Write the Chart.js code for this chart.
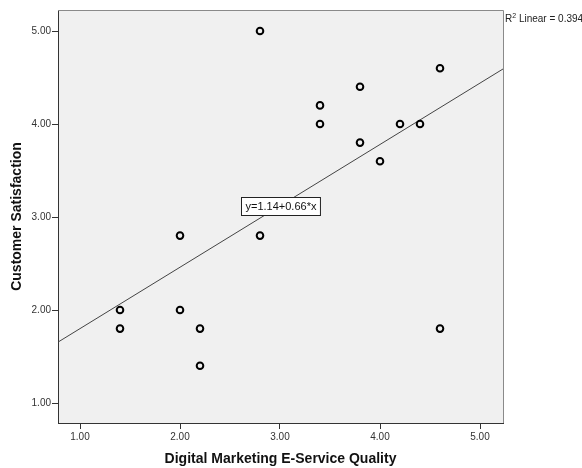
<!DOCTYPE html>
<html>
<head>
<meta charset="utf-8">
<script src="https://cdn.jsdelivr.net/npm/chart.js@4/dist/chart.umd.min.js"></script>
<style>
  html, body { margin: 0; padding: 0; background: #fff; }
  #wrap { width: 582px; height: 468px; }
</style>
</head>
<body>
<div id="wrap"><canvas id="c" width="582" height="468"></canvas></div>
<script>
// Observations: e-service quality (x) against customer satisfaction (y)
const serviceQuality = [2.8, 4.6, 3.8, 3.4, 3.4, 4.2, 4.4, 3.8, 4.0, 2.0, 2.8, 1.4, 1.4, 2.0, 2.2, 2.2, 4.6];
const satisfaction   = [5.0, 4.6, 4.4, 4.2, 4.0, 4.0, 4.0, 3.8, 3.6, 2.8, 2.8, 2.0, 1.8, 2.0, 1.8, 1.4, 1.8];

// Fitted linear model: y = intercept + slope * x
const intercept = 1.14;
const slope = 0.66;
const rSquared = 0.394;

// Axis ranges and tick values
const xRange = [0.78, 5.23];
const yRange = [0.785, 5.226];
const xTicks = [1, 2, 3, 4, 5];
const yTicks = [1, 2, 3, 4, 5];

const xTitle = 'Digital Marketing E-Service Quality';
const yTitle = 'Customer Satisfaction';

const points = serviceQuality.map((x, i) => ({ x: x, y: satisfaction[i] }));
const fitLine = xRange.map(x => ({ x: x, y: intercept + slope * x }));

const FONT = '"Liberation Sans", Arial, sans-serif';

// Plot frame: grey fill, lighter top/right edges
const framePlugin = {
  id: 'frame',
  beforeDatasetsDraw(chart) {
    const { ctx, chartArea: a } = chart;
    ctx.save();
    ctx.strokeStyle = '#8a8a8a';
    ctx.lineWidth = 1;
    ctx.beginPath();
    ctx.moveTo(a.left, a.top + 0.5);
    ctx.lineTo(a.right + 0.5, a.top + 0.5);
    ctx.lineTo(a.right + 0.5, a.bottom);
    ctx.stroke();
    ctx.restore();
  },
  beforeDraw(chart) {
    const { ctx, chartArea: a } = chart;
    ctx.save();
    ctx.fillStyle = '#f0f0f0';
    ctx.fillRect(a.left, a.top, a.right - a.left, a.bottom - a.top);
    ctx.restore();
  }
};

// Equation box on the fit line and the R² note beside the frame
const notesPlugin = {
  id: 'notes',
  afterDatasetsDraw(chart) {
    const { ctx, chartArea: a, scales } = chart;
    const lx = 3.0;
    const cx = scales.x.getPixelForValue(lx);
    const cy = scales.y.getPixelForValue(intercept + slope * lx);
    const label = 'y=' + intercept.toFixed(2) + '+' + slope.toFixed(2) + '*x';
    ctx.save();
    ctx.font = '11px ' + FONT;
    const w = ctx.measureText(label).width + 8;
    const h = 18;
    const bx = Math.round(cx - w / 2) + 0.5;
    const by = Math.round(cy - h / 2) + 0.5;
    ctx.fillStyle = '#ffffff';
    ctx.fillRect(bx, by, w, h);
    ctx.strokeStyle = '#222';
    ctx.lineWidth = 1;
    ctx.strokeRect(bx, by, w, h);
    ctx.fillStyle = '#111';
    ctx.textAlign = 'center';
    ctx.textBaseline = 'middle';
    ctx.fillText(label, bx + w / 2, by + h / 2 + 0.5);

    // R² Linear note
    let x = a.right + 2;
    const y = a.top + 9;
    ctx.textAlign = 'left';
    ctx.fillStyle = '#222';
    ctx.font = '10px ' + FONT;
    ctx.fillText('R', x, y);
    x += ctx.measureText('R').width;
    ctx.font = '7px ' + FONT;
    ctx.fillText('2', x, y - 3);
    x += ctx.measureText('2').width;
    ctx.font = '10px ' + FONT;
    ctx.fillText(' Linear = ' + rSquared.toFixed(3), x, y);
    ctx.restore();
  }
};

new Chart(document.getElementById('c'), {
  type: 'scatter',
  data: {
    datasets: [
      {
        type: 'line',
        data: fitLine,
        borderColor: '#444',
        borderWidth: 1,
        pointRadius: 0,
        fill: false,
        order: 2
      },
      {
        data: points,
        pointStyle: 'circle',
        pointRadius: 3.3,
        pointBorderWidth: 2,
        borderColor: '#000',
        backgroundColor: 'rgba(0,0,0,0)',
        pointHoverRadius: 3.3,
        order: 1
      }
    ]
  },
  options: {
    responsive: false,
    animation: false,
    events: [],
    layout: { padding: { left: 0, right: 79, top: 10, bottom: 0 } },
    plugins: { legend: { display: false }, tooltip: { enabled: false } },
    scales: {
      x: {
        type: 'linear',
        min: xRange[0],
        max: xRange[1],
        afterBuildTicks(scale) { scale.ticks = xTicks.map(v => ({ value: v })); },
        afterFit(scale) { scale.height = 45; },
        ticks: {
          callback: v => Number(v).toFixed(2),
          color: '#333',
          font: { family: FONT, size: 10 },
          padding: 2,
          maxRotation: 0
        },
        grid: { display: true, drawOnChartArea: false, drawTicks: true, tickLength: 6, color: '#333' },
        border: { display: true, color: '#333', width: 1 },
        title: {
          display: true,
          text: xTitle,
          color: '#111',
          font: { family: FONT, size: 14, weight: 'bold' },
          padding: { top: 4, bottom: 0 }
        }
      },
      y: {
        type: 'linear',
        min: yRange[0],
        max: yRange[1],
        afterBuildTicks(scale) { scale.ticks = yTicks.map(v => ({ value: v })); },
        afterFit(scale) { scale.width = 58; },
        ticks: {
          callback: v => Number(v).toFixed(2),
          color: '#333',
          font: { family: FONT, size: 10 },
          padding: 1
        },
        grid: { display: true, drawOnChartArea: false, drawTicks: true, tickLength: 6, color: '#333' },
        border: { display: true, color: '#333', width: 1 },
        title: {
          display: true,
          text: yTitle,
          color: '#111',
          font: { family: FONT, size: 14, weight: 'bold' },
          padding: { top: 9, bottom: 0 }
        }
      }
    }
  },
  plugins: [framePlugin, notesPlugin]
});
</script>
</body>
</html>
